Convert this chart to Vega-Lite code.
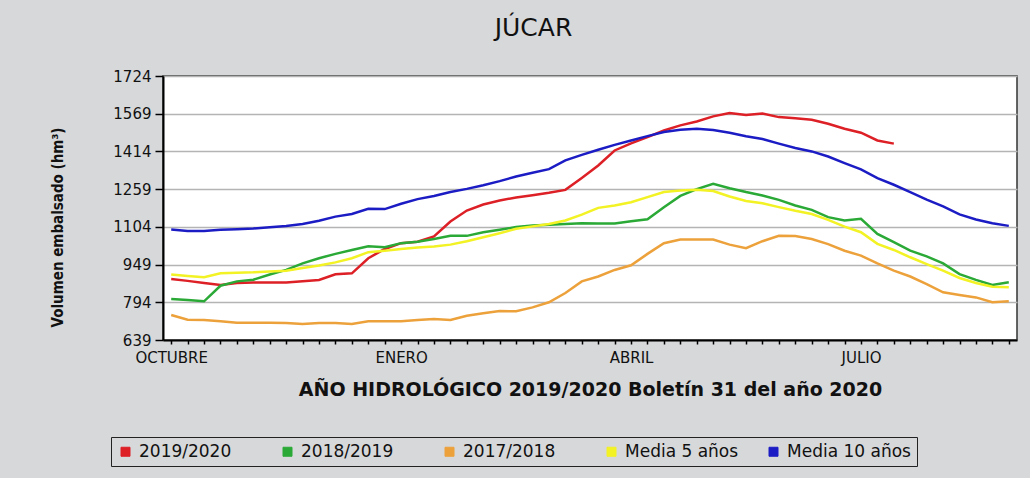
{
  "$schema": "https://vega.github.io/schema/vega-lite/v6.json",
  "width": 854,
  "height": 264,
  "autosize": {"type": "none"},
  "padding": {"left": 163, "top": 76, "right": 13, "bottom": 138},
  "background": "#d7d8da",
  "title": {"text": "JÚCAR", "font": "DejaVu Sans", "fontSize": 25, "fontWeight": "normal", "color": "#111111", "offset": 28, "anchor": "middle", "frame": "bounds"},
  "datasets": {
    "embalse": [
      {"semana":1,"serie":"2019/2020","valor":890},{"semana":2,"serie":"2019/2020","valor":882},{"semana":3,"serie":"2019/2020","valor":873},{"semana":4,"serie":"2019/2020","valor":865},{"semana":5,"serie":"2019/2020","valor":873},{"semana":6,"serie":"2019/2020","valor":875},{"semana":7,"serie":"2019/2020","valor":875},{"semana":8,"serie":"2019/2020","valor":875},{"semana":9,"serie":"2019/2020","valor":880},{"semana":10,"serie":"2019/2020","valor":886},{"semana":11,"serie":"2019/2020","valor":909},{"semana":12,"serie":"2019/2020","valor":913},{"semana":13,"serie":"2019/2020","valor":975},{"semana":14,"serie":"2019/2020","valor":1013},{"semana":15,"serie":"2019/2020","valor":1037},{"semana":16,"serie":"2019/2020","valor":1043},{"semana":17,"serie":"2019/2020","valor":1065},{"semana":18,"serie":"2019/2020","valor":1126},{"semana":19,"serie":"2019/2020","valor":1171},{"semana":20,"serie":"2019/2020","valor":1196},{"semana":21,"serie":"2019/2020","valor":1212},{"semana":22,"serie":"2019/2020","valor":1225},{"semana":23,"serie":"2019/2020","valor":1234},{"semana":24,"serie":"2019/2020","valor":1244},{"semana":25,"serie":"2019/2020","valor":1256},{"semana":26,"serie":"2019/2020","valor":1305},{"semana":27,"serie":"2019/2020","valor":1356},{"semana":28,"serie":"2019/2020","valor":1418},{"semana":29,"serie":"2019/2020","valor":1447},{"semana":30,"serie":"2019/2020","valor":1473},{"semana":31,"serie":"2019/2020","valor":1500},{"semana":32,"serie":"2019/2020","valor":1521},{"semana":33,"serie":"2019/2020","valor":1537},{"semana":34,"serie":"2019/2020","valor":1558},{"semana":35,"serie":"2019/2020","valor":1572},{"semana":36,"serie":"2019/2020","valor":1564},{"semana":37,"serie":"2019/2020","valor":1570},{"semana":38,"serie":"2019/2020","valor":1555},{"semana":39,"serie":"2019/2020","valor":1550},{"semana":40,"serie":"2019/2020","valor":1544},{"semana":41,"serie":"2019/2020","valor":1528},{"semana":42,"serie":"2019/2020","valor":1507},{"semana":43,"serie":"2019/2020","valor":1491},{"semana":44,"serie":"2019/2020","valor":1459},{"semana":45,"serie":"2019/2020","valor":1446},
      {"semana":1,"serie":"2018/2019","valor":808},{"semana":2,"serie":"2018/2019","valor":803},{"semana":3,"serie":"2018/2019","valor":798},{"semana":4,"serie":"2018/2019","valor":862},{"semana":5,"serie":"2018/2019","valor":880},{"semana":6,"serie":"2018/2019","valor":887},{"semana":7,"serie":"2018/2019","valor":908},{"semana":8,"serie":"2018/2019","valor":927},{"semana":9,"serie":"2018/2019","valor":954},{"semana":10,"serie":"2018/2019","valor":975},{"semana":11,"serie":"2018/2019","valor":993},{"semana":12,"serie":"2018/2019","valor":1009},{"semana":13,"serie":"2018/2019","valor":1024},{"semana":14,"serie":"2018/2019","valor":1020},{"semana":15,"serie":"2018/2019","valor":1037},{"semana":16,"serie":"2018/2019","valor":1043},{"semana":17,"serie":"2018/2019","valor":1054},{"semana":18,"serie":"2018/2019","valor":1067},{"semana":19,"serie":"2018/2019","valor":1067},{"semana":20,"serie":"2018/2019","valor":1082},{"semana":21,"serie":"2018/2019","valor":1092},{"semana":22,"serie":"2018/2019","valor":1103},{"semana":23,"serie":"2018/2019","valor":1110},{"semana":24,"serie":"2018/2019","valor":1113},{"semana":25,"serie":"2018/2019","valor":1116},{"semana":26,"serie":"2018/2019","valor":1119},{"semana":27,"serie":"2018/2019","valor":1118},{"semana":28,"serie":"2018/2019","valor":1118},{"semana":29,"serie":"2018/2019","valor":1127},{"semana":30,"serie":"2018/2019","valor":1135},{"semana":31,"serie":"2018/2019","valor":1185},{"semana":32,"serie":"2018/2019","valor":1231},{"semana":33,"serie":"2018/2019","valor":1259},{"semana":34,"serie":"2018/2019","valor":1281},{"semana":35,"serie":"2018/2019","valor":1263},{"semana":36,"serie":"2018/2019","valor":1247},{"semana":37,"serie":"2018/2019","valor":1233},{"semana":38,"serie":"2018/2019","valor":1215},{"semana":39,"serie":"2018/2019","valor":1192},{"semana":40,"serie":"2018/2019","valor":1174},{"semana":41,"serie":"2018/2019","valor":1144},{"semana":42,"serie":"2018/2019","valor":1130},{"semana":43,"serie":"2018/2019","valor":1137},{"semana":44,"serie":"2018/2019","valor":1075},{"semana":45,"serie":"2018/2019","valor":1041},{"semana":46,"serie":"2018/2019","valor":1006},{"semana":47,"serie":"2018/2019","valor":983},{"semana":48,"serie":"2018/2019","valor":954},{"semana":49,"serie":"2018/2019","valor":910},{"semana":50,"serie":"2018/2019","valor":886},{"semana":51,"serie":"2018/2019","valor":865},{"semana":52,"serie":"2018/2019","valor":876},
      {"semana":1,"serie":"2017/2018","valor":742},{"semana":2,"serie":"2017/2018","valor":722},{"semana":3,"serie":"2017/2018","valor":721},{"semana":4,"serie":"2017/2018","valor":716},{"semana":5,"serie":"2017/2018","valor":710},{"semana":6,"serie":"2017/2018","valor":710},{"semana":7,"serie":"2017/2018","valor":710},{"semana":8,"serie":"2017/2018","valor":709},{"semana":9,"serie":"2017/2018","valor":705},{"semana":10,"serie":"2017/2018","valor":709},{"semana":11,"serie":"2017/2018","valor":709},{"semana":12,"serie":"2017/2018","valor":705},{"semana":13,"serie":"2017/2018","valor":716},{"semana":14,"serie":"2017/2018","valor":716},{"semana":15,"serie":"2017/2018","valor":716},{"semana":16,"serie":"2017/2018","valor":721},{"semana":17,"serie":"2017/2018","valor":725},{"semana":18,"serie":"2017/2018","valor":721},{"semana":19,"serie":"2017/2018","valor":739},{"semana":20,"serie":"2017/2018","valor":749},{"semana":21,"serie":"2017/2018","valor":758},{"semana":22,"serie":"2017/2018","valor":757},{"semana":23,"serie":"2017/2018","valor":773},{"semana":24,"serie":"2017/2018","valor":794},{"semana":25,"serie":"2017/2018","valor":832},{"semana":26,"serie":"2017/2018","valor":880},{"semana":27,"serie":"2017/2018","valor":900},{"semana":28,"serie":"2017/2018","valor":927},{"semana":29,"serie":"2017/2018","valor":946},{"semana":30,"serie":"2017/2018","valor":993},{"semana":31,"serie":"2017/2018","valor":1037},{"semana":32,"serie":"2017/2018","valor":1052},{"semana":33,"serie":"2017/2018","valor":1052},{"semana":34,"serie":"2017/2018","valor":1052},{"semana":35,"serie":"2017/2018","valor":1031},{"semana":36,"serie":"2017/2018","valor":1016},{"semana":37,"serie":"2017/2018","valor":1045},{"semana":38,"serie":"2017/2018","valor":1067},{"semana":39,"serie":"2017/2018","valor":1066},{"semana":40,"serie":"2017/2018","valor":1054},{"semana":41,"serie":"2017/2018","valor":1033},{"semana":42,"serie":"2017/2018","valor":1006},{"semana":43,"serie":"2017/2018","valor":986},{"semana":44,"serie":"2017/2018","valor":954},{"semana":45,"serie":"2017/2018","valor":924},{"semana":46,"serie":"2017/2018","valor":900},{"semana":47,"serie":"2017/2018","valor":869},{"semana":48,"serie":"2017/2018","valor":835},{"semana":49,"serie":"2017/2018","valor":824},{"semana":50,"serie":"2017/2018","valor":814},{"semana":51,"serie":"2017/2018","valor":794},{"semana":52,"serie":"2017/2018","valor":798},
      {"semana":1,"serie":"Media 5 años","valor":908},{"semana":2,"serie":"Media 5 años","valor":902},{"semana":3,"serie":"Media 5 años","valor":897},{"semana":4,"serie":"Media 5 años","valor":913},{"semana":5,"serie":"Media 5 años","valor":915},{"semana":6,"serie":"Media 5 años","valor":917},{"semana":7,"serie":"Media 5 años","valor":921},{"semana":8,"serie":"Media 5 años","valor":924},{"semana":9,"serie":"Media 5 años","valor":935},{"semana":10,"serie":"Media 5 años","valor":945},{"semana":11,"serie":"Media 5 años","valor":958},{"semana":12,"serie":"Media 5 años","valor":975},{"semana":13,"serie":"Media 5 años","valor":1000},{"semana":14,"serie":"Media 5 años","valor":1006},{"semana":15,"serie":"Media 5 años","valor":1013},{"semana":16,"serie":"Media 5 años","valor":1019},{"semana":17,"serie":"Media 5 años","valor":1023},{"semana":18,"serie":"Media 5 años","valor":1031},{"semana":19,"serie":"Media 5 años","valor":1045},{"semana":20,"serie":"Media 5 años","valor":1061},{"semana":21,"serie":"Media 5 años","valor":1078},{"semana":22,"serie":"Media 5 años","valor":1096},{"semana":23,"serie":"Media 5 años","valor":1106},{"semana":24,"serie":"Media 5 años","valor":1116},{"semana":25,"serie":"Media 5 años","valor":1130},{"semana":26,"serie":"Media 5 años","valor":1154},{"semana":27,"serie":"Media 5 años","valor":1182},{"semana":28,"serie":"Media 5 años","valor":1192},{"semana":29,"serie":"Media 5 años","valor":1205},{"semana":30,"serie":"Media 5 años","valor":1226},{"semana":31,"serie":"Media 5 años","valor":1247},{"semana":32,"serie":"Media 5 años","valor":1253},{"semana":33,"serie":"Media 5 años","valor":1256},{"semana":34,"serie":"Media 5 años","valor":1251},{"semana":35,"serie":"Media 5 años","valor":1229},{"semana":36,"serie":"Media 5 años","valor":1210},{"semana":37,"serie":"Media 5 años","valor":1201},{"semana":38,"serie":"Media 5 años","valor":1185},{"semana":39,"serie":"Media 5 años","valor":1170},{"semana":40,"serie":"Media 5 años","valor":1157},{"semana":41,"serie":"Media 5 años","valor":1133},{"semana":42,"serie":"Media 5 años","valor":1105},{"semana":43,"serie":"Media 5 años","valor":1082},{"semana":44,"serie":"Media 5 años","valor":1034},{"semana":45,"serie":"Media 5 años","valor":1009},{"semana":46,"serie":"Media 5 años","valor":979},{"semana":47,"serie":"Media 5 años","valor":951},{"semana":48,"serie":"Media 5 años","valor":924},{"semana":49,"serie":"Media 5 años","valor":894},{"semana":50,"serie":"Media 5 años","valor":873},{"semana":51,"serie":"Media 5 años","valor":858},{"semana":52,"serie":"Media 5 años","valor":856},
      {"semana":1,"serie":"Media 10 años","valor":1093},{"semana":2,"serie":"Media 10 años","valor":1087},{"semana":3,"serie":"Media 10 años","valor":1087},{"semana":4,"serie":"Media 10 años","valor":1092},{"semana":5,"serie":"Media 10 años","valor":1094},{"semana":6,"serie":"Media 10 años","valor":1097},{"semana":7,"serie":"Media 10 años","valor":1102},{"semana":8,"serie":"Media 10 años","valor":1108},{"semana":9,"serie":"Media 10 años","valor":1116},{"semana":10,"serie":"Media 10 años","valor":1129},{"semana":11,"serie":"Media 10 años","valor":1146},{"semana":12,"serie":"Media 10 años","valor":1157},{"semana":13,"serie":"Media 10 años","valor":1178},{"semana":14,"serie":"Media 10 años","valor":1177},{"semana":15,"serie":"Media 10 años","valor":1199},{"semana":16,"serie":"Media 10 años","valor":1218},{"semana":17,"serie":"Media 10 años","valor":1231},{"semana":18,"serie":"Media 10 años","valor":1247},{"semana":19,"serie":"Media 10 años","valor":1260},{"semana":20,"serie":"Media 10 años","valor":1275},{"semana":21,"serie":"Media 10 años","valor":1292},{"semana":22,"serie":"Media 10 años","valor":1311},{"semana":23,"serie":"Media 10 años","valor":1326},{"semana":24,"serie":"Media 10 años","valor":1341},{"semana":25,"serie":"Media 10 años","valor":1377},{"semana":26,"serie":"Media 10 años","valor":1400},{"semana":27,"serie":"Media 10 años","valor":1421},{"semana":28,"serie":"Media 10 años","valor":1441},{"semana":29,"serie":"Media 10 años","valor":1459},{"semana":30,"serie":"Media 10 años","valor":1477},{"semana":31,"serie":"Media 10 años","valor":1494},{"semana":32,"serie":"Media 10 años","valor":1503},{"semana":33,"serie":"Media 10 años","valor":1507},{"semana":34,"serie":"Media 10 años","valor":1502},{"semana":35,"serie":"Media 10 años","valor":1491},{"semana":36,"serie":"Media 10 años","valor":1476},{"semana":37,"serie":"Media 10 años","valor":1465},{"semana":38,"serie":"Media 10 años","valor":1446},{"semana":39,"serie":"Media 10 años","valor":1428},{"semana":40,"serie":"Media 10 años","valor":1414},{"semana":41,"serie":"Media 10 años","valor":1393},{"semana":42,"serie":"Media 10 años","valor":1366},{"semana":43,"serie":"Media 10 años","valor":1340},{"semana":44,"serie":"Media 10 años","valor":1304},{"semana":45,"serie":"Media 10 años","valor":1277},{"semana":46,"serie":"Media 10 años","valor":1247},{"semana":47,"serie":"Media 10 años","valor":1216},{"semana":48,"serie":"Media 10 años","valor":1188},{"semana":49,"serie":"Media 10 años","valor":1155},{"semana":50,"serie":"Media 10 años","valor":1134},{"semana":51,"serie":"Media 10 años","valor":1119},{"semana":52,"serie":"Media 10 años","valor":1108}
    ]
  },
  "data": {"name": "embalse"},
  "mark": {"type": "line", "strokeWidth": 2.5},
  "encoding": {
    "x": {
      "field": "semana", "type": "quantitative",
      "scale": {"domain": [0.5, 52.5], "nice": false, "zero": false},
      "axis": {
        "values": [1,2,3,4,5,6,7,8,9,10,11,12,13,14,15,16,17,18,19,20,21,22,23,24,25,26,27,28,29,30,31,32,33,34,35,36,37,38,39,40,41,42,43,44,45,46,47,48,49,50,51,52],
        "labelExpr": "datum.value == 1 ? 'OCTUBRE' : datum.value == 15 ? 'ENERO' : datum.value == 29 ? 'ABRIL' : datum.value == 43 ? 'JULIO' : ''",
        "grid": false,
        "domainColor": "#000000", "domainWidth": 2,
        "tickColor": "#000000", "tickSize": 4, "tickWidth": 1.5,
        "labelFont": "DejaVu Sans", "labelFontSize": 15, "labelColor": "#111111", "labelPadding": 6,
        "labelOverlap": false, "labelFlush": false,
        "title": "AÑO HIDROLÓGICO 2019/2020 Boletín 31 del año 2020",
        "titleFont": "DejaVu Sans", "titleFontSize": 19, "titleFontWeight": "bold", "titleColor": "#111111", "titlePadding": 15
      }
    },
    "y": {
      "field": "valor", "type": "quantitative",
      "scale": {"domain": [639, 1724], "nice": false, "zero": false},
      "axis": {
        "values": [639, 794, 949, 1104, 1259, 1414, 1569, 1724],
        "format": "d",
        "grid": true, "gridColor": "#b4b4b4", "gridWidth": 1.5,
        "domainColor": "#000000", "domainWidth": 2,
        "tickColor": "#000000", "tickSize": 8, "tickWidth": 1.5,
        "labelFont": "DejaVu Sans", "labelFontSize": 15, "labelColor": "#111111", "labelPadding": 4,
        "title": "Volumen embalsado (hm³)",
        "titleFont": "DejaVu Sans Condensed", "titleFontSize": 15, "titleFontWeight": "bold", "titleColor": "#111111",
        "titleX": -98, "titleY": 151
      }
    },
    "color": {
      "field": "serie", "type": "nominal",
      "scale": {
        "domain": ["2019/2020", "2018/2019", "2017/2018", "Media 5 años", "Media 10 años"],
        "range": ["#dd1f26", "#2aa936", "#eca13b", "#f2f224", "#1c1cc4"]
      },
      "legend": {
        "orient": "none", "legendX": -52, "legendY": 361,
        "direction": "horizontal", "columns": 5, "gridAlign": "all",
        "title": null,
        "symbolType": "square", "symbolSize": 81, "symbolStrokeWidth": 1, "symbolStrokeColor": "#222222",
        "labelFont": "DejaVu Sans", "labelFontSize": 17, "labelColor": "#111111", "labelOffset": 5, "labelLimit": 300,
        "columnPadding": 16, "padding": 6,
        "strokeColor": "#222222", "fillColor": "#d7d8da",
        "encode": {
          "symbols": {
            "update": {
              "fill": {"scale": "color", "field": "value"},
              "stroke": {"value": "#222222"},
              "strokeWidth": {"value": 1},
              "opacity": {"value": 1}
            }
          }
        }
      }
    }
  },
  "config": {
    "view": {"fill": "#ffffff", "stroke": "#333333", "strokeWidth": 1.5}
  }
}
